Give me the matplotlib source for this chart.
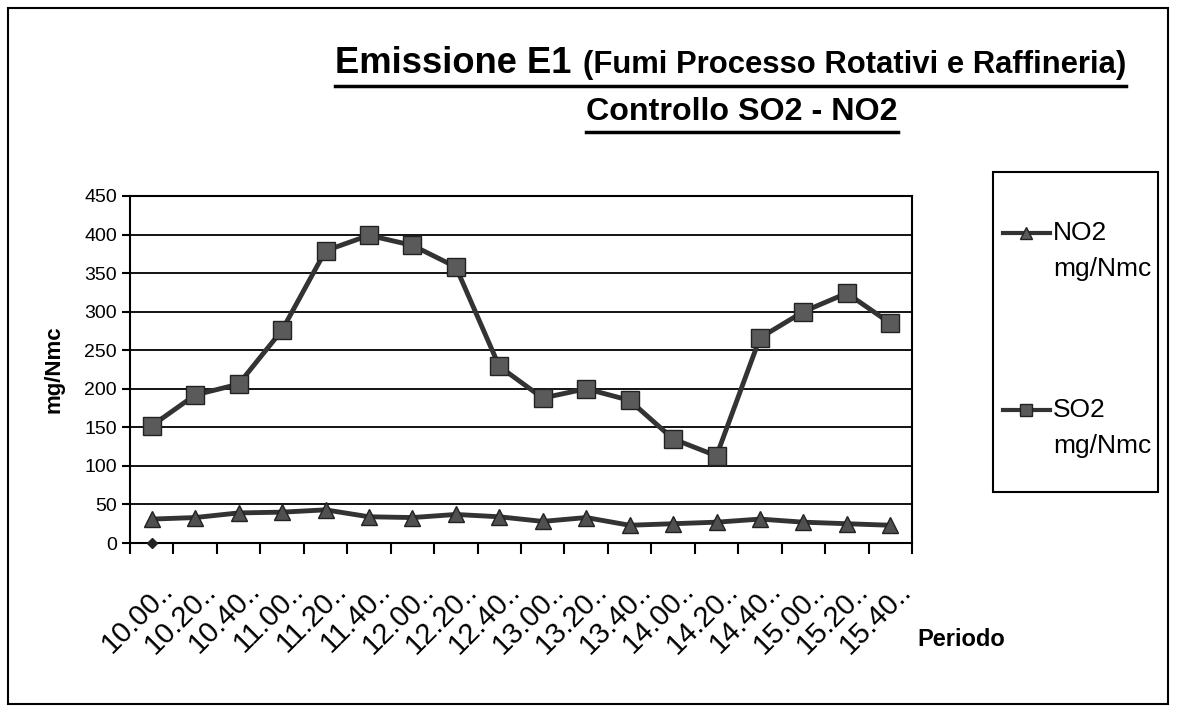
import matplotlib
matplotlib.use("Agg")
import matplotlib.pyplot as plt
from matplotlib.patches import Rectangle
from matplotlib.lines import Line2D
from matplotlib.transforms import ScaledTranslation

# -------------------------------------------------
# Data
# -------------------------------------------------
periods = ["10.00..", "10.20..", "10.40..", "11.00..", "11.20..", "11.40..",
           "12.00..", "12.20..", "12.40..", "13.00..", "13.20..", "13.40..",
           "14.00..", "14.20..", "14.40..", "15.00..", "15.20..", "15.40.."]
so2 = [152, 192, 206, 276, 379, 399, 386, 358, 229, 188, 200, 185,
       135, 113, 266, 300, 324, 285]
no2 = [31, 33, 39, 40, 43, 34, 33, 37, 34, 28, 33, 23, 25, 27, 31, 27, 25, 23]
stray_series = [0]

plt.rcParams["font.family"] = ["Liberation Sans", "DejaVu Sans"]

W, H = 1178, 713
fig = plt.figure(figsize=(W / 100, H / 100), dpi=100)
ax = fig.add_axes([130 / W, 1 - 543 / H, 782 / W, 347 / H])

line_kw = dict(color="#333333", lw=3.5, mec="#222222", zorder=3)
x = list(range(len(periods)))
ax.plot(x, no2, marker="^", ms=12, mfc="#505050", **line_kw)
ax.plot(x, so2, marker="s", ms=13, mfc="#5a5a5a", **line_kw)
ax.plot(x[:len(stray_series)], stray_series, ls="none", marker="D", ms=5,
        color="#222222", zorder=4, clip_on=False)

ax.set_xlim(-0.5, len(periods) - 0.5)
ax.set_ylim(0, 450)
ax.set_yticks(range(0, 451, 50))
ax.yaxis.grid(True, color="black", lw=1.3)
ax.set_axisbelow(True)
for s in ax.spines.values():
    s.set_color("black")
    s.set_linewidth(1.5)

# category ticks between points, labels centered on points
ax.set_xticks([i - 0.5 for i in range(len(periods) + 1)])
ax.set_xticklabels([""] * (len(periods) + 1))
ax.set_xticks(x, minor=True)
ax.set_xticklabels(periods, minor=True, rotation=45, ha="right",
                   rotation_mode="anchor", fontsize=21)
ax.tick_params(axis="x", which="major", length=8, width=1.5, direction="out")
ax.tick_params(axis="x", which="minor", length=0, pad=24)
ax.tick_params(axis="y", length=6, width=1.5, labelsize=14)
shift = ScaledTranslation(7 / 100, 0, fig.dpi_scale_trans)
for lab in ax.get_xticklabels(minor=True):
    lab.set_transform(lab.get_transform() + shift)

ax.set_ylabel("mg/Nmc", fontsize=16, fontweight="bold", labelpad=14)
fig.text(961 / W, 1 - 640 / H, "Periodo", fontsize=17, fontweight="bold",
         ha="center", va="center")

# legend box (drawn by hand to keep the handle beside the first line)
fig.add_artist(Rectangle((993 / W, 1 - 492 / H), 165 / W, 320 / H, fill=False,
                         lw=1.5, edgecolor="black", transform=fig.transFigure))
for name, mk, yy in [("NO2", "^", 233), ("SO2", "s", 410)]:
    fig.add_artist(Line2D([1003 / W, 1026 / W, 1050 / W], [1 - yy / H] * 3,
                          marker=mk, markevery=[1], ms=9, transform=fig.transFigure,
                          color="#333333", lw=3, mfc="#5a5a5a", mec="#222222"))
    fig.text(1053 / W, 1 - yy / H, name, fontsize=19, ha="left", va="center")
    fig.text(1053 / W, 1 - (yy + 36) / H, "mg/Nmc", fontsize=19, ha="left",
             va="center")

# titles with underline, sized to the reference widths
fig.canvas.draw()
r = fig.canvas.get_renderer()


def fit_text(xpx, ybase, txt, width_px, size0, ha="left"):
    t = fig.text(xpx / W, 1 - ybase / H, txt, fontsize=size0, fontweight="bold",
                 ha=ha, va="baseline")
    w = t.get_window_extent(r).width
    t.set_fontsize(size0 * width_px / w)
    return t


t1 = fit_text(335, 73, "Emissione E1", 237, 30)
t2 = fit_text(583, 73, "(Fumi Processo Rotativi e Raffineria)", 542, 22)
t3 = fit_text(742, 120, "Controllo SO2 - NO2", 311, 22, ha="center")

fig.canvas.draw()
for a, b in [(t1, t2), (t3, t3)]:
    ba = a.get_window_extent(r)
    bb = b.get_window_extent(r)
    fig.add_artist(Line2D([ba.x0 / W, bb.x1 / W], [1 - (H - ba.y0 + 5) / H] * 2,
                          color="black", lw=2.5, transform=fig.transFigure))

# outer border
fig.add_artist(Rectangle((8 / W, 1 - 704 / H), 1160 / W, 696 / H, fill=False,
                         lw=1.5, edgecolor="black", transform=fig.transFigure))

fig.savefig("out.png", dpi=100)
